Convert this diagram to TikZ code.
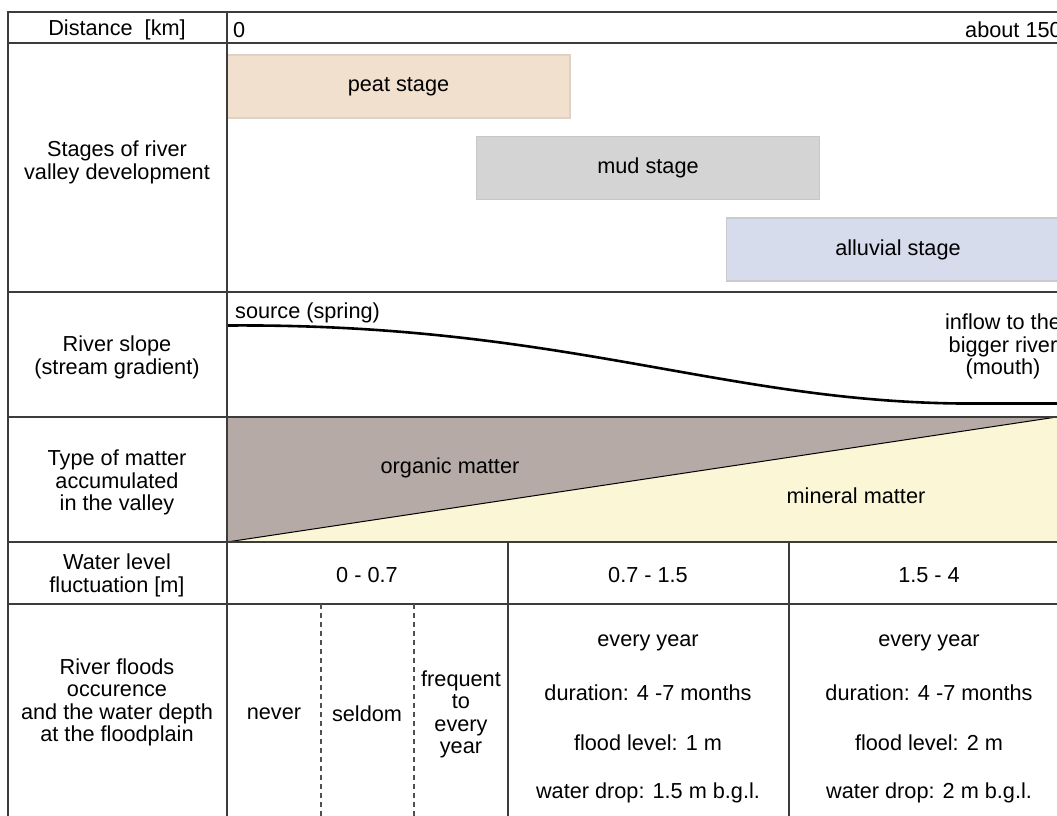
\documentclass[tikz,border=0pt]{standalone}
\usepackage{fontspec}
\setmainfont{Liberation Sans}
\definecolor{peatfill}{HTML}{F1E0CD}
\definecolor{peatline}{HTML}{DCD2C8}
\definecolor{mudfill}{HTML}{D3D4D3}
\definecolor{mudline}{HTML}{C6C7C6}
\definecolor{alluvfill}{HTML}{D6DCEC}
\definecolor{alluvline}{HTML}{C8CAD0}
\definecolor{organicfill}{HTML}{B5AAA5}
\definecolor{mineralfill}{HTML}{FAF6D6}
\definecolor{gridgray}{HTML}{3C3C3C}
\begin{document}
\begin{tikzpicture}[x=1pt,y=-1pt,
    every node/.style={font=\fontsize{21.7}{22.5}\selectfont,align=center,inner sep=0pt,yshift=-2.5pt},
    grid/.style={draw=gridgray,line width=1.6pt},
    thin grid/.style={draw=gridgray!90,line width=1.1pt,dash pattern=on 5pt off 4pt},
    stagebox/.style={line width=1.2pt,minimum width=343pt,minimum height=63pt}]
\useasboundingbox(0,0)rectangle(1057,816);
\clip(0,0)rectangle(1057,816);
% matter accumulated
\fill[organicfill](227,417)--(1070,417)--(1070,415)--(227,542)--cycle;
\fill[mineralfill](227,542)--(1070,415)--(1070,542)--cycle;
\draw[line width=1pt](227,542)--(1070,415);
% stages
\node(peat)[stagebox,fill=peatfill,draw=peatline]at(398.5,84){peat stage};
\node(mud)[stagebox,fill=mudfill,draw=mudline]at(648,165.5){mud stage};
\node(alluv)[stagebox,fill=alluvfill,draw=alluvline]at(898,247){alluvial stage};
% slope
\coordinate(src)at(227,323);
\coordinate(bend)at(960,401);
\coordinate(mouth)at(1070,401);
\draw[line width=2.6pt](src)..controls(560,323)and(720,401)..(bend)--(mouth);
% table lines
\draw[grid](8,12)rectangle(1070,822);
\foreach \y in {43,292,417,542,604}
    \draw[grid](8,\y)--(1070,\y);
\draw[grid](227,12)--(227,822);
\draw[grid](508,542)--(508,822);
\draw[grid](789,542)--(789,822);
\draw[thin grid](321,604)--(321,822);
\draw[thin grid](414,604)--(414,822);
% left column
\node(dist)at(117,27.5){Distance\ \ [km]};
\node(stages)at(117,160){Stages of river\\valley development};
\node(slope)at(117,355){River slope\\(stream gradient)};
\node(matter)at(117,480){Type of matter\\accumulated\\in the valley};
\node(level)at(117,573){Water level\\fluctuation [m]};
\node(floods)at(117,700){River floods\\occurence\\and the water depth\\at the floodplain};
% distance
\node(zero)[anchor=west]at(233,27.5){0};
\node(end)[anchor=west]at(965,27.5){about 150};
% slope labels
\node(spring)[anchor=west]at(235,310){source (spring)};
\node(inflow)at(1003,344){inflow to the\\bigger river\\(mouth)};
% matter labels
\node(organic)at(450,465){organic matter};
\node(mineral)at(856,493){mineral matter};
% water level
\node(l1)at(367,573){0 - 0.7};
\node(l2)at(648,573){0.7 - 1.5};
\node(l3)at(929,573){1.5 - 4};
% floods
\node(never)at(274,711){never};
\node(seldom)at(367,711){seldom};
\node(freq)at(461,712){frequent\\to\\every\\year};
\node(a1)at(648,640){every year};
\node(a2)at(648,690){duration: 4 -7 months};
\node(a3)at(648,740){flood level: 1 m};
\node(a4)at(648,790){water drop: 1.5 m b.g.l.};
\node(b1)at(929,640){every year};
\node(b2)at(929,690){duration: 4 -7 months};
\node(b3)at(929,740){flood level: 2 m};
\node(b4)at(929,790){water drop: 2 m b.g.l.};
\end{tikzpicture}
\end{document}
